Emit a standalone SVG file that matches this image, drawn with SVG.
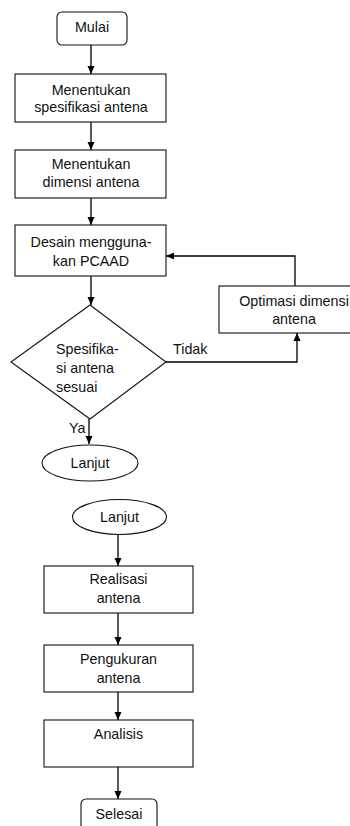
<svg xmlns="http://www.w3.org/2000/svg" width="350" height="826" viewBox="0 0 350 826">
<style>
.box{fill:#fff;stroke:#111;stroke-width:1.1}
.ln{fill:none;stroke:#000;stroke-width:1.3}
text{font-family:"Liberation Sans",Arial,sans-serif;font-size:14.3px;fill:#111}
.c{text-anchor:middle}
</style>
<defs>
<marker id="ah" markerUnits="userSpaceOnUse" markerWidth="8" markerHeight="8" refX="8" refY="4" orient="auto">
<path d="M0,0.5 L8,4 L0,7.5 z" fill="#000"/>
</marker>
</defs>
<rect width="350" height="826" fill="#fff"/>
<g id="connectors">
<path class="ln" d="M91,45 L91,74" marker-end="url(#ah)"/>
<path class="ln" d="M91,122 L91,150" marker-end="url(#ah)"/>
<path class="ln" d="M91,198 L91,225" marker-end="url(#ah)"/>
<path class="ln" d="M91,276 L91,305" marker-end="url(#ah)"/>
<path class="ln" d="M166,362 L297,362 L297,333" marker-end="url(#ah)"/>
<path class="ln" d="M295,286 L295,256 L166,256" marker-end="url(#ah)"/>
<path class="ln" d="M89,419 L89,444" marker-end="url(#ah)"/>
<path class="ln" d="M118,535 L118,566" marker-end="url(#ah)"/>
<path class="ln" d="M118,613 L118,645" marker-end="url(#ah)"/>
<path class="ln" d="M118,692 L118,720" marker-end="url(#ah)"/>
<path class="ln" d="M118,767 L118,799" marker-end="url(#ah)"/>
<text x="173" y="354">Tidak</text>
<text x="69" y="433">Ya</text>
</g>
<g id="mulai">
<rect class="box" x="57" y="12" width="70" height="33" rx="5"/>
<text class="c" x="92" y="32">Mulai</text>
</g>
<g id="spesifikasi">
<rect class="box" x="15" y="74" width="151" height="48"/>
<text class="c" x="91" y="95">Menentukan</text>
<text class="c" x="91" y="112">spesifikasi antena</text>
</g>
<g id="dimensi">
<rect class="box" x="15" y="150" width="151" height="48"/>
<text class="c" x="91" y="169">Menentukan</text>
<text class="c" x="91" y="187">dimensi antena</text>
</g>
<g id="desain">
<rect class="box" x="15" y="225" width="151" height="51"/>
<text class="c" x="91" y="247">Desain mengguna-</text>
<text class="c" x="91" y="266">kan PCAAD</text>
</g>
<g id="optimasi">
<rect class="box" x="219" y="286" width="151" height="47"/>
<text class="c" x="294" y="306">Optimasi dimensi</text>
<text class="c" x="294" y="324">antena</text>
</g>
<g id="keputusan">
<polygon class="box" points="90,305 166,362 90,419 11,362"/>
<text x="56" y="354">Spesifika-</text>
<text x="56" y="373">si antena</text>
<text x="56" y="392">sesuai</text>
</g>
<g id="lanjut1">
<ellipse class="box" cx="90" cy="463" rx="48" ry="18"/>
<text class="c" x="90" y="468">Lanjut</text>
</g>
<g id="lanjut2">
<ellipse class="box" cx="119.5" cy="517" rx="47" ry="17.5"/>
<text class="c" x="119.5" y="522">Lanjut</text>
</g>
<g id="realisasi">
<rect class="box" x="44" y="566" width="149" height="47"/>
<text class="c" x="118.5" y="584">Realisasi</text>
<text class="c" x="118.5" y="603">antena</text>
</g>
<g id="pengukuran">
<rect class="box" x="44" y="645" width="149" height="47"/>
<text class="c" x="118.5" y="664">Pengukuran</text>
<text class="c" x="118.5" y="683">antena</text>
</g>
<g id="analisis">
<rect class="box" x="44" y="720" width="149" height="47"/>
<text class="c" x="118.5" y="739">Analisis</text>
</g>
<g id="selesai">
<rect class="box" x="81" y="799" width="76" height="40" rx="5"/>
<text class="c" x="119" y="819">Selesai</text>
</g>
</svg>
